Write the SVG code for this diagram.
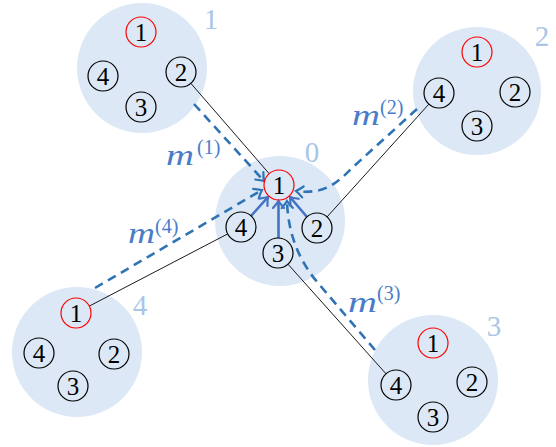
<svg xmlns="http://www.w3.org/2000/svg" width="556" height="447" viewBox="0 0 556 447" font-family="Liberation Serif, DejaVu Serif, serif">
<style>
.disk{fill:#dce8f5;stroke:none}
.n circle{fill:none;stroke:#000;stroke-width:1.2}
.n.r circle{stroke:#ff0000}
.n text{font-size:25px;text-anchor:middle;fill:#000}
.cl{font-size:29px;text-anchor:middle;fill:#a9c6e8}
.edge{stroke:#000;stroke-width:0.9;fill:none}
.msg{stroke:#2e74b5;stroke-width:2.6;fill:none;stroke-dasharray:9 6;marker-end:url(#ad)}
.loc{stroke:#4472c4;stroke-width:2.6;fill:none;marker-end:url(#as)}
.m{font-style:italic;font-size:30px;fill:#4a7cc9}
.sup{font-size:20px;fill:#4a7cc9}
</style>
<defs>
<marker id="ad" markerUnits="userSpaceOnUse" viewBox="-9 -7 11 14" markerWidth="11" markerHeight="14" refX="0" refY="0" orient="auto">
<path d="M-7,-5.5 Q-2.5,-1.5 0,0 Q-2.5,1.5 -7,5.5" fill="none" stroke="#2e74b5" stroke-width="2.2" stroke-linecap="round"/>
</marker>
<marker id="as" markerUnits="userSpaceOnUse" viewBox="-9 -7 11 14" markerWidth="11" markerHeight="14" refX="0" refY="0" orient="auto">
<path d="M-7,-5.5 Q-2.5,-1.5 0,0 Q-2.5,1.5 -7,5.5" fill="none" stroke="#4472c4" stroke-width="2.2" stroke-linecap="round"/>
</marker>
</defs>

<g id="clusters-bg">
<circle class="disk" cx="280" cy="221" r="65"/>
<circle class="disk" cx="142" cy="68" r="65"/>
<circle class="disk" cx="477" cy="91" r="64"/>
<circle class="disk" cx="433" cy="380" r="65"/>
<circle class="disk" cx="77" cy="352" r="65"/>
</g>

<g id="connectors">
<line class="edge" x1="190.8" y1="83.3" x2="269.2" y2="173.7"/>
<line class="edge" x1="327.1" y1="216.9" x2="428.9" y2="104.1"/>
<line class="edge" x1="288" y1="264.2" x2="386" y2="373.8"/>
<line class="edge" x1="227.7" y1="233.9" x2="89.3" y2="306.1"/>
<path class="msg" d="M194,104 L264,181"/>
<path class="msg" d="M95,288 L262,190"/>
<path class="msg" d="M417,109 L352,168 C338,182 325,195 296,191"/>
<path class="msg" d="M375,350 L318,283 C300,262 288,235 287,201"/>
<path class="loc" d="M251,216 L268,197"/>
<path class="loc" d="M278.5,238 L278.5,201"/>
<path class="loc" d="M307,217 L290,197"/>
</g>

<g id="cluster0">
<g id="c0n1" class="n r"><circle cx="279" cy="185" r="15"/><text x="279" y="193.5">1</text></g>
<g id="c0n4" class="n"><circle cx="241" cy="227" r="15"/><text x="241" y="235.5">4</text></g>
<g id="c0n2" class="n"><circle cx="317" cy="228" r="15"/><text x="317" y="236.5">2</text></g>
<g id="c0n3" class="n"><circle cx="278" cy="253" r="15"/><text x="278" y="261.5">3</text></g>
<text class="cl" x="312" y="162">0</text>
</g>

<g id="cluster1">
<g id="c1n1" class="n r"><circle cx="141" cy="32" r="15"/><text x="141" y="40.5">1</text></g>
<g id="c1n4" class="n"><circle cx="103" cy="76" r="15"/><text x="103" y="84.5">4</text></g>
<g id="c1n2" class="n"><circle cx="181" cy="72" r="15"/><text x="181" y="80.5">2</text></g>
<g id="c1n3" class="n"><circle cx="141" cy="107" r="15"/><text x="141" y="115.5">3</text></g>
<text class="cl" x="211" y="29">1</text>
</g>

<g id="cluster2">
<g id="c2n1" class="n r"><circle cx="477" cy="52" r="15"/><text x="477" y="60.5">1</text></g>
<g id="c2n4" class="n"><circle cx="439" cy="93" r="15"/><text x="439" y="101.5">4</text></g>
<g id="c2n2" class="n"><circle cx="515" cy="92" r="15"/><text x="515" y="100.5">2</text></g>
<g id="c2n3" class="n"><circle cx="477" cy="126" r="15"/><text x="477" y="134.5">3</text></g>
<text class="cl" x="542" y="46">2</text>
</g>

<g id="cluster3">
<g id="c3n1" class="n r"><circle cx="433" cy="343" r="15"/><text x="433" y="351.5">1</text></g>
<g id="c3n4" class="n"><circle cx="396" cy="385" r="15"/><text x="396" y="393.5">4</text></g>
<g id="c3n2" class="n"><circle cx="472" cy="382" r="15"/><text x="472" y="390.5">2</text></g>
<g id="c3n3" class="n"><circle cx="433" cy="417" r="15"/><text x="433" y="425.5">3</text></g>
<text class="cl" x="494" y="336">3</text>
</g>

<g id="cluster4">
<g id="c4n1" class="n r"><circle cx="76" cy="313" r="15"/><text x="76" y="321.5">1</text></g>
<g id="c4n4" class="n"><circle cx="39" cy="353" r="15"/><text x="39" y="361.5">4</text></g>
<g id="c4n2" class="n"><circle cx="114" cy="354" r="15"/><text x="114" y="362.5">2</text></g>
<g id="c4n3" class="n"><circle cx="73" cy="386" r="15"/><text x="73" y="394.5">3</text></g>
<text class="cl" x="140" y="315">4</text>
</g>

<g id="labels">
<text class="m" x="166" y="165" textLength="28" lengthAdjust="spacingAndGlyphs">m</text><text class="sup" x="197" y="153.5">(1)</text>
<text class="m" x="352" y="125" textLength="28" lengthAdjust="spacingAndGlyphs">m</text><text class="sup" x="380" y="113.5">(2)</text>
<text class="m" x="128" y="243" textLength="27" lengthAdjust="spacingAndGlyphs">m</text><text class="sup" x="155" y="233">(4)</text>
<text class="m" x="348" y="312" textLength="29" lengthAdjust="spacingAndGlyphs">m</text><text class="sup" x="377" y="300">(3)</text>
</g>
</svg>
